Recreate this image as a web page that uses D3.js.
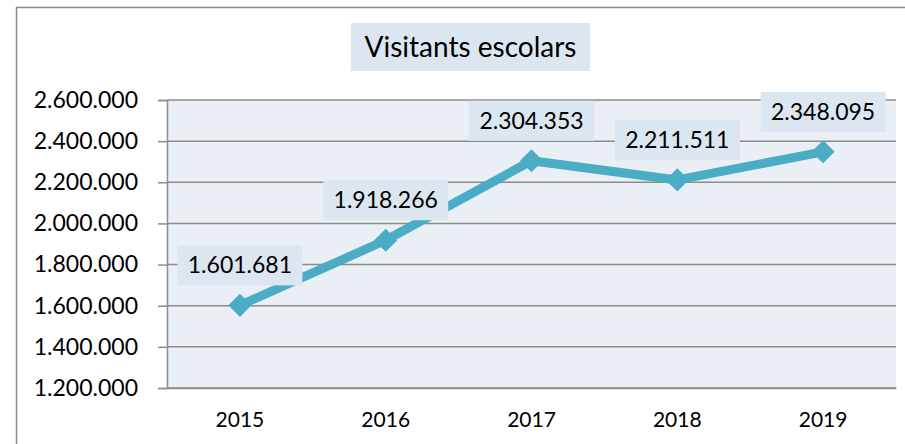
<!DOCTYPE html>
<html>
<head>
<meta charset="utf-8">
<script src="https://cdn.jsdelivr.net/npm/d3@7"></script>
<style>
  body { margin: 0; background: #ffffff; }
  text { font-family: Lato, "Liberation Sans", sans-serif; fill: #000; }
</style>
</head>
<body>
<div id="chart"></div>
<script>
// Chart data: school visitors per year
var years = ["2015", "2016", "2017", "2018", "2019"];
var visitors = [1601681, 1918266, 2304353, 2211511, 2348095];
var yTicks = [1200000, 1400000, 1600000, 1800000, 2000000, 2200000, 2400000, 2600000];
var chartTitle = "Visitants escolars";

var svgWidth = 905;
var svgHeight = 444;
var margin = { top: 100, right: 9, bottom: 56, left: 167 };
var width = svgWidth - margin.left - margin.right;
var height = svgHeight - margin.top - margin.bottom;

// Catalan style number format: 2.304.353
var locale = d3.formatLocale({ decimal: ",", thousands: ".", grouping: [3], currency: ["", "€"] });
var fmt = locale.format(",d");

var svg = d3.select("#chart")
  .append("svg")
  .attr("width", svgWidth)
  .attr("height", svgHeight);

// outer chart frame (continues past the right and bottom of the picture)
svg.append("rect")
  .attr("x", 16.5)
  .attr("y", 7.5)
  .attr("width", 1000)
  .attr("height", 1000)
  .attr("fill", "#ffffff")
  .attr("stroke", "#8a8a8a")
  .attr("stroke-width", 1.5);

// title with its shaded box
var titleG = svg.append("g");
titleG.append("rect")
  .attr("x", 351)
  .attr("y", 23)
  .attr("width", 239)
  .attr("height", 48)
  .attr("fill", "#dce6f1");
titleG.append("text")
  .attr("x", 470.5)
  .attr("y", 57)
  .attr("text-anchor", "middle")
  .attr("font-size", "28px")
  .text(chartTitle);

var chartGroup = svg.append("g")
  .attr("transform", `translate(${margin.left}, ${margin.top})`);

var xScale = d3.scaleBand()
  .domain(years)
  .range([0, width]);

var yScale = d3.scaleLinear()
  .domain([1200000, 2600000])
  .range([height, 0]);

// plot area background
chartGroup.append("rect")
  .attr("width", width)
  .attr("height", height)
  .attr("fill", "#e9eff4");

// horizontal gridlines
chartGroup.append("g")
  .selectAll("line")
  .data(yTicks)
  .enter()
  .append("line")
  .attr("x1", 0)
  .attr("x2", width)
  .attr("y1", d => yScale(d))
  .attr("y2", d => yScale(d))
  .attr("stroke", "#8c8c8c")
  .attr("stroke-width", 1.5);

// y axis
var leftAxis = d3.axisLeft(yScale)
  .tickValues(yTicks)
  .tickFormat(fmt)
  .tickSize(9)
  .tickPadding(20);

var yAxisG = chartGroup.append("g").call(leftAxis);
yAxisG.select(".domain").attr("stroke", "#8c8c8c").attr("stroke-width", 1.5);
yAxisG.selectAll(".tick line").attr("stroke", "#8c8c8c").attr("stroke-width", 1.5);
yAxisG.selectAll("text")
  .attr("font-size", "23px")
  .attr("font-family", "Lato, 'Liberation Sans', sans-serif")
  .attr("fill", "#000");

// x axis
var bottomAxis = d3.axisBottom(xScale)
  .tickSize(0)
  .tickPadding(24);

var xAxisG = chartGroup.append("g")
  .attr("transform", `translate(0, ${height})`)
  .call(bottomAxis);
xAxisG.select(".domain").attr("stroke", "#8c8c8c").attr("stroke-width", 1.5);
xAxisG.selectAll("text")
  .attr("font-size", "21px")
  .attr("font-family", "Lato, 'Liberation Sans', sans-serif")
  .attr("fill", "#000");

// line
var points = years.map((y, i) => ({ year: y, value: visitors[i] }));
var cx = d => xScale(d.year) + xScale.bandwidth() / 2;

var line = d3.line()
  .x(cx)
  .y(d => yScale(d.value));

chartGroup.append("path")
  .datum(points)
  .attr("d", line)
  .attr("fill", "none")
  .attr("stroke", "#4bacc6")
  .attr("stroke-width", 9)
  .attr("stroke-linejoin", "round");

// diamond markers
chartGroup.selectAll(".marker")
  .data(points)
  .enter()
  .append("path")
  .attr("class", "marker")
  .attr("d", d3.symbol().type(d3.symbolDiamond2).size(340))
  .attr("transform", d => `translate(${cx(d)}, ${yScale(d.value)})`)
  .attr("fill", "#4bacc6");

// data labels with shaded boxes
var labels = chartGroup.selectAll(".dlabel")
  .data(points)
  .enter()
  .append("g")
  .attr("class", "dlabel")
  .attr("transform", d => `translate(${cx(d)}, ${yScale(d.value) - 20})`);

labels.append("rect")
  .attr("x", -62.5)
  .attr("y", -40)
  .attr("width", 125)
  .attr("height", 40)
  .attr("fill", "#dce6f1");

labels.append("text")
  .attr("x", 0)
  .attr("y", -12)
  .attr("text-anchor", "middle")
  .attr("font-size", "23px")
  .text(d => fmt(d.value));
</script>
</body>
</html>
